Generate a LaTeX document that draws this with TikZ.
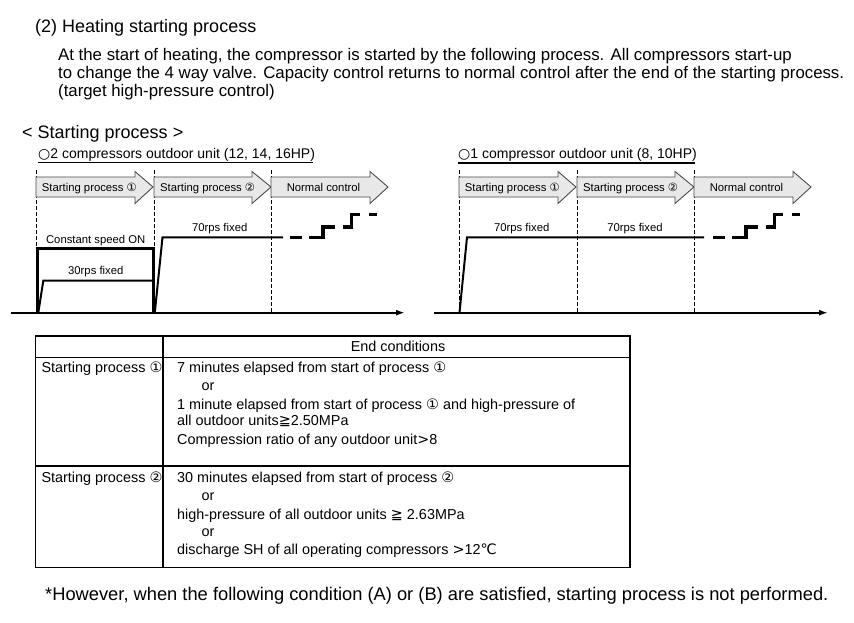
\documentclass[tikz,border=0pt]{standalone}
\usepackage{fontspec}
\setmainfont{Liberation Sans}
\newfontfamily\sym{DejaVu Sans}
\usetikzlibrary{arrows.meta}
\newcommand\cone{{\sym ①}}
\newcommand\ctwo{{\sym ②}}
\newcommand\mygeqq{{\sym ≧}}
\newcommand\gtw{{\sym >}}
\newcommand\degc{{\sym ℃}}
\tikzset{
  txt/.style={anchor=base west, inner sep=0pt},
  ctxt/.style={anchor=base, inner sep=0pt},
  fT/.style={font=\fontsize{18}{20}\selectfont},
  fP/.style={font=\fontsize{16.8}{18}\selectfont},
  fH/.style={font=\fontsize{18}{20}\selectfont},
  fU/.style={font=\fontsize{14}{16}\selectfont},
  fC/.style={font=\fontsize{11.3}{13}\selectfont},
  fB/.style={font=\fontsize{14.4}{16}\selectfont},
  fF/.style={font=\fontsize{18.3}{20}\selectfont},
  arrowbox/.style={fill=black!9, draw=black!70, line width=0.9pt, line join=miter},
  vdash/.style={draw=black, line width=0.8pt, dash pattern=on 4pt off 2pt},
  axis/.style={draw=black, line width=2pt, -{Latex[length=9pt,width=6pt]}},
  speed/.style={draw=black, line width=2pt, line join=miter},
  thickon/.style={draw=black, line width=3.3pt, line join=miter},
  stepd/.style={draw=black, line width=3.3pt, line join=miter, line cap=butt},
  tbl/.style={draw=black, line width=1.5pt},
  uline/.style={draw=black, line width=1.8pt}
}
\begin{document}
\begin{tikzpicture}[x=1pt,y=-1pt]
\useasboundingbox (0,0) rectangle (854,623);
\fill[white] (0,0) rectangle (854,623);

% heading texts
\node[txt,fT] (title) at (35,32.7) {(2) Heating starting process};
\node[txt,fP] (p1) at (58,60.5) {At the start of heating, the compressor is started by the following process. All compressors start-up};
\node[txt,fP] (p2) at (58,78.7) {to change the 4 way valve. Capacity control returns to normal control after the end of the starting process.};
\node[txt,fP] (p3) at (58,97) {(target high-pressure control)};
\node[txt,fH] (sp) at (22,138.5) {< Starting process >};
\node[txt,fU] (hl) at (38,158.3) {{\sym ○}2 compressors outdoor unit (12, 14, 16HP)};
\node[txt,fU] (hr) at (458,158.3) {{\sym ○}1 compressor outdoor unit (8, 10HP)};
\draw[uline] (hl.base west) ++(0,4.2) -- (313,162.5);
\draw[uline] (hr.base west) ++(0,4.7) -- (695,163);

% shared chart parts (left at 0, right shifted)
\foreach \sh/\nm in {0/L,423/R}{
  \begin{scope}[xshift=\sh pt]
    \draw[vdash] (36,170) -- (36,312.7);
    \draw[vdash] (154,170) -- (154,312.7);
    \draw[vdash] (271,170) -- (271,312.7);
    \filldraw[arrowbox] (36,177) -- (135,177) -- (135,171.5) -- (153,187) -- (135,203.5) -- (135,197) -- (36,197) -- cycle;
    \filldraw[arrowbox] (154,177) -- (252,177) -- (252,171.5) -- (271,187) -- (252,203.5) -- (252,197) -- (154,197) -- cycle;
    \filldraw[arrowbox] (271,177) -- (370,177) -- (370,171.5) -- (388,187) -- (370,203.5) -- (370,197) -- (271,197) -- cycle;
    \node[txt,fC] (a1\nm) at (41.7,191.2) {Starting process \cone};
    \node[txt,fC] (a2\nm) at (160,191.2) {Starting process \ctwo};
    \node[ctxt,fC] (a3\nm) at (323.5,191.2) {Normal control};
    \coordinate (ax0\nm) at (11,312.7);
    \coordinate (ax1\nm) at (405,312.7);
    \draw[axis] (ax0\nm) -- (ax1\nm);
    \draw[stepd] (290,237.3) -- (302,237.3);
    \draw[stepd] (309,237.3) -- (323,237.3) -- (323,227) -- (335,227);
    \draw[stepd] (343,227) -- (351.5,227) -- (351.5,214.3) -- (360,214.3);
    \draw[stepd] (369,214.3) -- (377,214.3);
  \end{scope}
}

% left chart specifics
\draw[thickon] (37.7,312.7) -- (37.7,248.3) -- (153.3,248.3) -- (153.3,312.7);
\draw[speed] (38.3,312.7) -- (43.3,280.7) -- (153,280.7);
\draw[speed] (154.8,312.7) -- (162.5,237.3) -- (283,237.3);
\node[ctxt,fC] (csl) at (95.7,243.3) {Constant speed ON};
\node[ctxt,fC] (r30) at (95.8,274.2) {30rps fixed};
\node[ctxt,fC] (r70a) at (219.7,231) {70rps fixed};

% right chart specifics
\draw[speed] (459.5,312.7) -- (467,237.3) -- (704,237.3);
\node[ctxt,fC] (r70b) at (521.7,231) {70rps fixed};
\node[ctxt,fC] (r70c) at (635,231) {70rps fixed};

% table
\draw[tbl] (35.3,336) rectangle (630,567.3);
\draw[tbl] (163,336) -- (163,567.3);
\draw[tbl] (35.3,357.3) -- (630,357.3);
\draw[tbl] (35.3,466) -- (630,466);
\node[ctxt,fB] (ec) at (398,351.7) {End conditions};
\node[txt,fB] (s1) at (41.3,372.7) {Starting process \cone};
\node[txt,fB] (s2) at (41.3,482.7) {Starting process \ctwo};
\node[txt,fB] (c11) at (177,372.7) {7 minutes elapsed from start of process \cone};
\node[txt,fB] (c12) at (201.3,390.7) {or};
\node[txt,fB] (c13) at (177,409) {1 minute elapsed from start of process \cone\ and high-pressure of};
\node[txt,fB] (c14) at (177,425.7) {all outdoor units\mygeqq 2.50MPa};
\node[txt,fB] (c15) at (177,444) {Compression ratio of any outdoor unit\gtw 8};
\node[txt,fB] (c21) at (177,482.7) {30 minutes elapsed from start of process \ctwo};
\node[txt,fB] (c22) at (201.3,500.7) {or};
\node[txt,fB] (c23) at (177,519) {high-pressure of all outdoor units \mygeqq\ 2.63MPa};
\node[txt,fB] (c24) at (201.3,536.7) {or};
\node[txt,fB] (c25) at (177,554.3) {discharge SH of all operating compressors \gtw 12\degc};

% footer
\node[txt,fF] (foot) at (45,600.5) {*However, when the following condition (A) or (B) are satisfied, starting process is not performed.};
\end{tikzpicture}
\end{document}
